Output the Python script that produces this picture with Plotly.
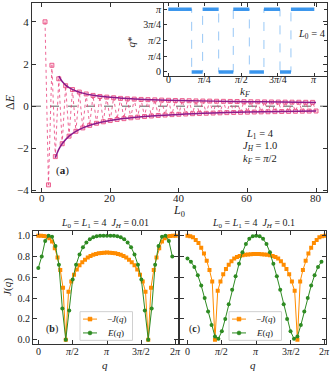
import plotly.graph_objects as go
import numpy as np

W, H = 334, 377
PI = np.pi
FONT = "Liberation Serif"

# ---- panel (a): gap vs L0, L0 = 1..80 ----
L0 = list(range(1, 81))
delta_e = [4.00, -3.73, 1.94, -2.39, 1.30, -1.78, 0.97, -1.42, 0.79, -1.19,
           0.67, -1.03, 0.58, -0.91, 0.51, -0.81, 0.46, -0.74, 0.43, -0.68,
           0.40, -0.63, 0.37, -0.59, 0.35, -0.55, 0.335, -0.52, 0.32, -0.49,
           0.31, -0.465, 0.30, -0.44, 0.29, -0.42, 0.28, -0.40, 0.27, -0.385,
           0.265, -0.37, 0.258, -0.355, 0.25, -0.345, 0.245, -0.335, 0.24, -0.325,
           0.235, -0.315, 0.23, -0.305, 0.225, -0.298, 0.22, -0.29, 0.215, -0.283,
           0.21, -0.276, 0.207, -0.27, 0.203, -0.264, 0.20, -0.258, 0.197, -0.252,
           0.193, -0.247, 0.19, -0.242, 0.187, -0.237, 0.184, -0.232, 0.181, -0.228]

fit_top_L = [5, 6, 7, 8, 10, 12, 15, 20, 25, 30, 40, 50, 60, 70, 80]
fit_top = [1.42, 1.17, 1.00, 0.88, 0.72, 0.62, 0.52, 0.42, 0.36, 0.32, 0.27, 0.24, 0.215, 0.195, 0.18]
fit_bot_L = [4, 5, 6, 8, 10, 12, 15, 20, 25, 30, 40, 50, 60, 70, 80]
fit_bot = [-2.45, -2.05, -1.78, -1.42, -1.19, -1.03, -0.86, -0.68, -0.57, -0.49, -0.39, -0.325, -0.28, -0.25, -0.225]

# ---- inset: q* vs k_F (both in units of pi) ----
kf_edges = [0.0, 0.16, 0.235, 0.345, 0.445, 0.555, 0.655, 0.765, 0.84, 1.0]
qstar_levels = [1, 0, 1, 0, 1, 0, 1, 0, 1]

# ---- panels (b), (c): q in units of pi ----
q_sq = [0.00, 0.04, 0.08, 0.12, 0.16, 0.20, 0.24, 0.28, 0.32, 0.36, 0.40, 0.44, 0.48,
        0.52, 0.56, 0.60, 0.64, 0.68, 0.72, 0.76, 0.80, 0.84, 0.88, 0.92, 0.96, 1.00,
        1.04, 1.08, 1.12, 1.16, 1.20, 1.24, 1.28, 1.32, 1.36, 1.40, 1.44, 1.48, 1.52,
        1.56, 1.60, 1.64, 1.68, 1.72, 1.76, 1.80, 1.84, 1.88, 1.92, 1.96, 2.00]
q_ci = [0.00, 0.05, 0.10, 0.15, 0.20, 0.25, 0.30, 0.35, 0.40, 0.45, 0.50, 0.55, 0.60,
        0.65, 0.70, 0.75, 0.80, 0.85, 0.90, 0.95, 1.00, 1.05, 1.10, 1.15, 1.20, 1.25,
        1.30, 1.35, 1.40, 1.45, 1.50, 1.55, 1.60, 1.65, 1.70, 1.75, 1.80, 1.85, 1.90, 1.95]

negJ_b = [1.000, 1.000, 0.998, 0.992, 0.975, 0.945, 0.880, 0.790, 0.670, 0.500, 0.000,
          0.460, 0.560, 0.625, 0.675, 0.715, 0.745, 0.770, 0.790, 0.805, 0.816, 0.825,
          0.831, 0.835, 0.837, 0.838, 0.837, 0.835, 0.831, 0.825, 0.816, 0.805, 0.790,
          0.770, 0.745, 0.715, 0.675, 0.625, 0.560, 0.460, 0.000, 0.500, 0.670, 0.790,
          0.880, 0.945, 0.975, 0.992, 0.998, 1.000, 1.000]
E_b = [0.69, 0.80, 0.95, 1.00, 0.99, 0.90, 0.72, 0.30, 0.00, 0.28, 0.58, 0.72, 0.82,
       0.89, 0.935, 0.965, 0.985, 0.995, 1.00, 1.00, 1.00, 1.00, 1.00, 0.995, 0.985,
       0.965, 0.935, 0.89, 0.82, 0.72, 0.58, 0.28, 0.00, 0.30, 0.72, 0.90, 0.99, 1.00,
       0.95, 0.80]

negJ_c = [1.000, 0.995, 0.985, 0.960, 0.930, 0.885, 0.830, 0.760, 0.670, 0.560, 0.000,
          0.470, 0.560, 0.630, 0.680, 0.720, 0.755, 0.780, 0.795, 0.805, 0.812, 0.817,
          0.820, 0.822, 0.823, 0.823, 0.823, 0.822, 0.820, 0.817, 0.812, 0.805, 0.795,
          0.780, 0.755, 0.720, 0.680, 0.630, 0.560, 0.470, 0.000, 0.560, 0.670, 0.760,
          0.830, 0.885, 0.930, 0.960, 0.985, 0.995, 1.000]
E_c = [0.78, 0.75, 0.70, 0.62, 0.52, 0.40, 0.27, 0.14, 0.03, 0.01, 0.08, 0.20, 0.34,
       0.48, 0.61, 0.73, 0.84, 0.92, 0.97, 0.995, 1.00, 0.995, 0.97, 0.92, 0.84, 0.73,
       0.61, 0.48, 0.34, 0.20, 0.08, 0.01, 0.03, 0.14, 0.27, 0.40, 0.52, 0.62, 0.70, 0.75]

a_xticks = [0, 20, 40, 60, 80]
inset_ticks = [0, 0.25, 0.5, 0.75, 1.0]
inset_text = ["0", "<i>π</i>/4", "<i>π</i>/2", "3<i>π</i>/4", "<i>π</i>"]
q_ticks = [0, 0.5, 1.0, 1.5, 2.0]
q_text = ["0", "<i>π</i>/2", "<i>π</i>", "3<i>π</i>/2", "2<i>π</i>"]

PINK = "#e8407a"
PURPLE = "#8b1a8b"
BLUE = "rgba(40,140,235,0.9)"
ORANGE = "#ff8c00"
GREEN = "#2e8b22"


def px(x):
    return x / W


def py(y):
    return 1 - y / H


fig = go.Figure()

# (a) data
fig.add_trace(go.Scatter(
    x=L0, y=delta_e, mode="lines+markers", xaxis="x", yaxis="y",
    line=dict(color="rgba(232,64,122,0.8)", width=1, dash="dot"),
    marker=dict(symbol="square", size=4, color="rgba(240,120,160,0.3)",
                line=dict(color=PINK, width=0.8)),
))
fig.add_trace(go.Scatter(x=fit_top_L, y=fit_top, mode="lines", line_shape="spline",
                         xaxis="x", yaxis="y", line=dict(color=PURPLE, width=1.5)))
fig.add_trace(go.Scatter(x=fit_bot_L, y=fit_bot, mode="lines", line_shape="spline",
                         xaxis="x", yaxis="y", line=dict(color=PURPLE, width=1.5)))

# inset: dashed step path + thick flat parts
step_x, step_y, flat_x, flat_y = [], [], [], []
for i, lev in enumerate(qstar_levels):
    a, b = kf_edges[i] * PI, kf_edges[i + 1] * PI
    step_x += [a, b]
    step_y += [lev * PI, lev * PI]
    flat_x += [a, b, None]
    flat_y += [lev * PI, lev * PI, None]
fig.add_trace(go.Scatter(x=step_x, y=step_y, mode="lines", xaxis="x2", yaxis="y2",
                         line=dict(color="rgba(40,140,235,0.6)", width=0.8, dash="dash")))
fig.add_trace(go.Scatter(x=flat_x, y=flat_y, mode="lines", xaxis="x2", yaxis="y2",
                         line=dict(color=BLUE, width=3.5)))

# (b) and (c)
for xa, ya, negJ, E in [("x3", "y3", negJ_b, E_b), ("x4", "y4", negJ_c, E_c)]:
    fig.add_trace(go.Scatter(
        x=[v * PI for v in q_sq], y=negJ, mode="lines+markers", xaxis=xa, yaxis=ya,
        line=dict(color=ORANGE, width=1),
        marker=dict(symbol="square", size=4, color=ORANGE)))
    fig.add_trace(go.Scatter(
        x=[v * PI for v in q_ci], y=E, mode="lines+markers", xaxis=xa, yaxis=ya,
        line=dict(color=GREEN, width=1),
        marker=dict(symbol="circle", size=4, color=GREEN)))

AX = dict(showline=True, linecolor="#333", linewidth=1, mirror="allticks",
          ticks="inside", ticklen=4, tickcolor="#333", showgrid=False, zeroline=False,
          tickfont=dict(family=FONT, size=11, color="#222"))

fig.update_layout(
    width=W, height=H, margin=dict(l=0, r=0, t=0, b=0), showlegend=False,
    paper_bgcolor="white", plot_bgcolor="rgba(0,0,0,0)",
    font=dict(family=FONT, color="#222"),
    xaxis=dict(AX, domain=[px(32), px(327)], range=[-2.8, 83.2],
               tickvals=a_xticks, showticklabels=False, anchor="y"),
    yaxis=dict(AX, domain=[py(194.3), py(3.3)], range=[-4.08, 4.88],
               tickvals=[-4, -2, 0, 2, 4], anchor="x"),
    xaxis2=dict(AX, domain=[px(164), px(327)], range=[-0.0295 * PI, 1.087 * PI],
                tickvals=[v * PI for v in inset_ticks], showticklabels=False,
                ticklen=3, anchor="y2"),
    yaxis2=dict(AX, domain=[py(77), py(3.3)], range=[-0.068 * PI, 1.095 * PI],
                tickvals=[v * PI for v in inset_ticks], ticktext=inset_text,
                ticklen=3, tickfont=dict(family=FONT, size=10), anchor="x2"),
    xaxis3=dict(AX, domain=[px(33), px(178)], range=[-0.077 * PI, 2.033 * PI],
                tickvals=[v * PI for v in q_ticks], showticklabels=False, anchor="y3"),
    yaxis3=dict(AX, domain=[py(347.3), py(233)], range=[-0.038, 1.05],
                tickvals=[0, 0.2, 0.4, 0.6, 0.8, 1.0], tickformat=".1f", anchor="x3",
                tickfont=dict(family=FONT, size=10)),
    xaxis4=dict(AX, domain=[px(180), px(326)], range=[-0.109 * PI, 2.016 * PI],
                tickvals=[v * PI for v in q_ticks], showticklabels=False, anchor="y4"),
    yaxis4=dict(AX, domain=[py(347.3), py(233)], range=[-0.038, 1.05],
                tickvals=[0, 0.2, 0.4, 0.6, 0.8, 1.0], showticklabels=False, anchor="x4"),
)

# zero line in (a)
fig.add_shape(type="line", xref="x domain", yref="y", x0=0, x1=1, y0=0, y1=0,
              line=dict(color="#333", width=0.8, dash="dash"), layer="below")


def note(x, y, text, size=11, angle=0, xref="paper", anchor="center"):
    fig.add_annotation(xref=xref, yref="paper", x=px(x) if xref == "paper" else x,
                       y=py(y), text=text, showarrow=False, textangle=angle,
                       xanchor=anchor, yanchor="middle",
                       font=dict(family=FONT, size=size, color="#222"))


# x tick labels, placed through each axis' own coordinates
for v in a_xticks:
    note(v, 200.5, str(v), 11, xref="x")
for v, t in zip(inset_ticks, inset_text):
    note(v * PI, 80.5, t, 10, xref="x2")
for xa in ["x3", "x4"]:
    for v, t in zip(q_ticks, q_text):
        note(v * PI, 355.5, t, 10, xref=xa)

note(10, 103, "Δ<i>E</i>", 12, -90)
note(179, 213, "<i>L</i><sub>0</sub>", 12)
note(62, 172, "(<b>a</b>)", 11)
note(260, 136, "<i>L</i><sub>1</sub> = 4", 10.5)
note(260, 148.5, "<i>J<sub>H</sub></i> = 1.0", 10.5)
note(260, 161, "<i>k<sub>F</sub></i> = <i>π</i>/2", 10.5)
note(131, 43, "<i>q</i>*", 11, -90)
note(245, 93, "<i>k<sub>F</sub></i>", 11)
note(312, 35, "<i>L</i><sub>0</sub> = 4", 10.5)
note(105, 226, "<i>L</i><sub>0</sub> = <i>L</i><sub>1</sub> = 4  <i>J<sub>H</sub></i> = 0.01", 10)
note(253, 226, "<i>L</i><sub>0</sub> = <i>L</i><sub>1</sub> = 4  <i>J<sub>H</sub></i> = 0.1", 10)
note(8, 290, "<i>J</i>(<i>q</i>)", 11, -90)
note(105, 369, "<i>q</i>", 11)
note(253, 369, "<i>q</i>", 11)
note(52, 333, "(<b>b</b>)", 10)
note(194, 333, "(<b>c</b>)", 10)

# hand-drawn legends for (b) and (c)
for x0 in [80, 229]:
    fig.add_shape(type="rect", xref="paper", yref="paper",
                  x0=px(x0), x1=px(x0 + 52.5), y0=py(344), y1=py(315),
                  line=dict(color="#d0d0d0", width=1), fillcolor="rgba(255,255,255,0.85)")
    for yy, col, sym, lab in [(322.5, ORANGE, "rect", "−<i>J</i>(<i>q</i>)"),
                              (336.5, GREEN, "circle", "<i>E</i>(<i>q</i>)")]:
        fig.add_shape(type="line", xref="paper", yref="paper",
                      x0=px(x0 + 3), x1=px(x0 + 17), y0=py(yy), y1=py(yy),
                      line=dict(color=col, width=1))
        fig.add_shape(type=sym, xref="paper", yref="paper",
                      x0=px(x0 + 8), x1=px(x0 + 12), y0=py(yy + 2), y1=py(yy - 2),
                      line=dict(color=col, width=0.5), fillcolor=col)
        note(x0 + 25, yy, lab, 9, anchor="left")

# the default page adds an 8px body margin; remove it so the figure fills the window
fig.write_html("out.html", config={"displayModeBar": False},
               post_script="document.body.style.margin='0';")
